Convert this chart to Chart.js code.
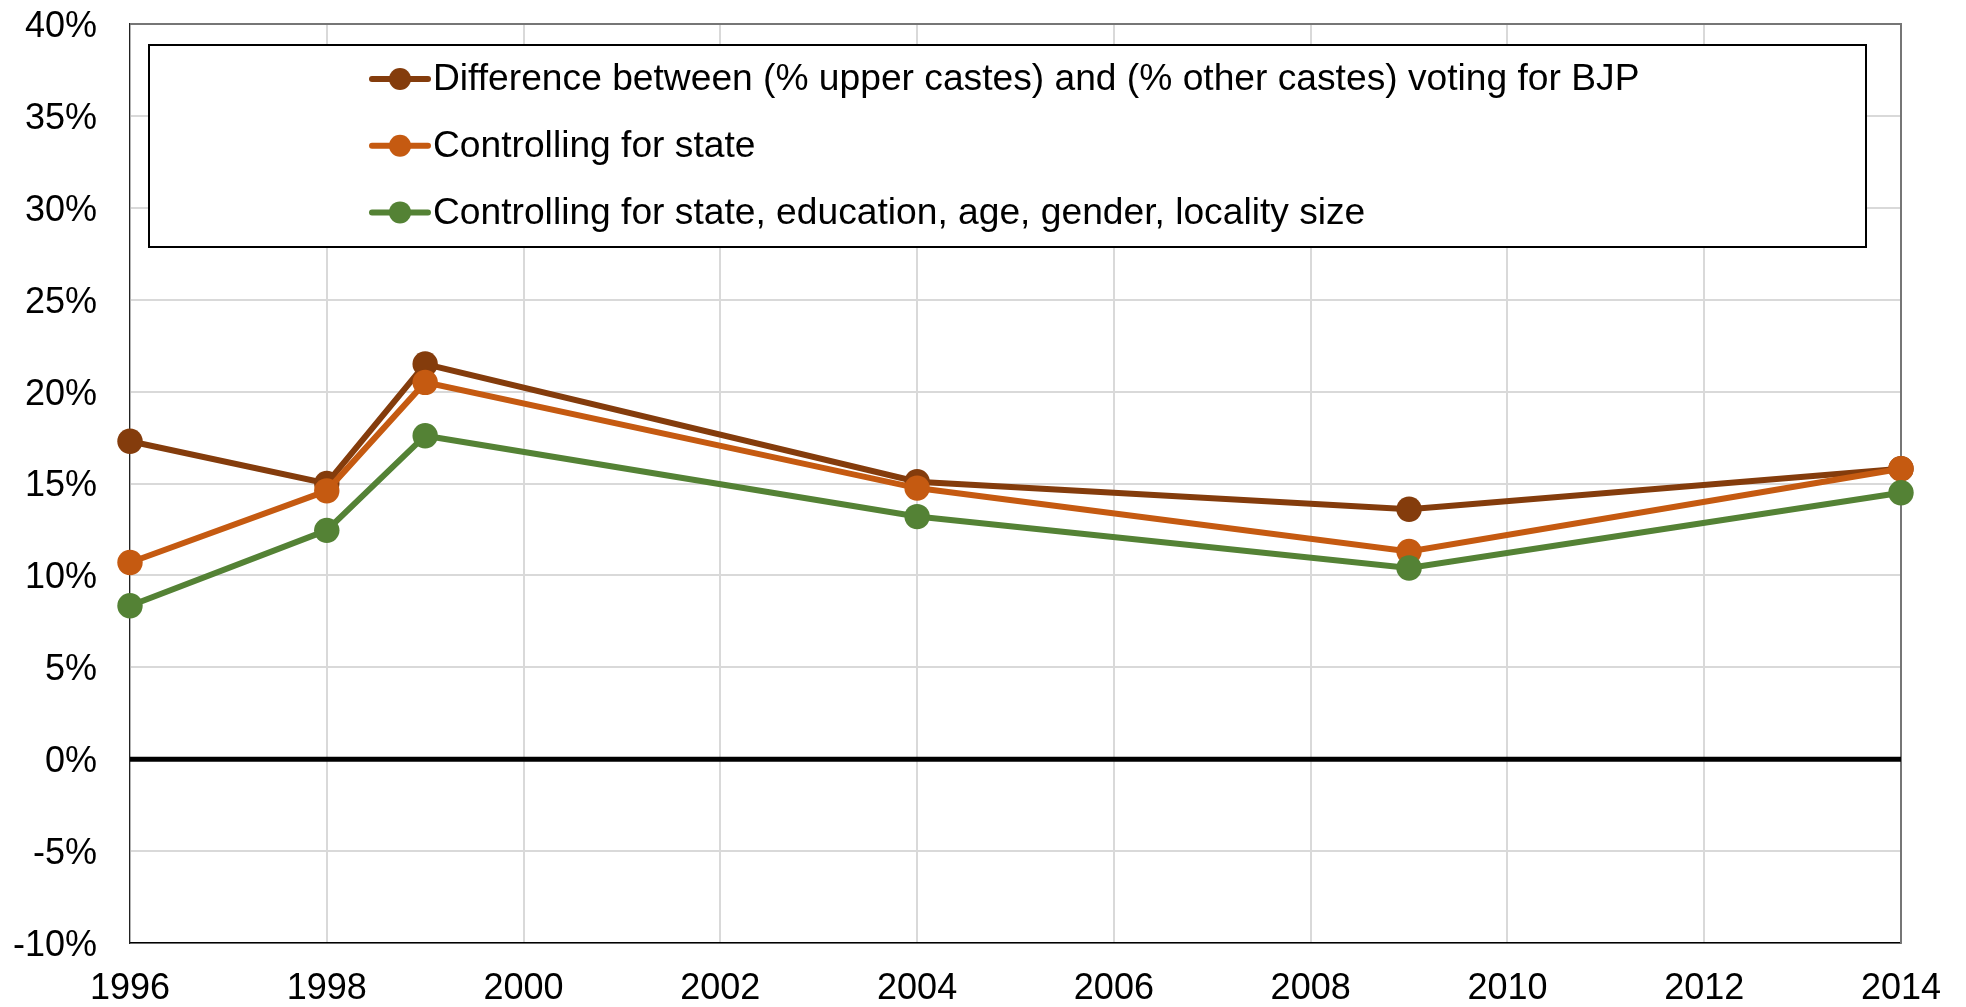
<!DOCTYPE html>
<html lang="en">

<head>
    <meta charset="UTF-8">
    <title>Upper castes vs other castes voting for BJP</title>
    <script src="https://cdn.jsdelivr.net/npm/chart.js@4.4.0/dist/chart.umd.min.js"></script>
    <style>
        html, body { margin: 0; padding: 0; background: #fff; }
        #wrap { width: 1966px; height: 1007px; }
    </style>
</head>

<body>
    <div id="wrap"><canvas id="chart" width="1966" height="1007"></canvas></div>
    <script>
        // election years and series values (in %)
        const years = [1996, 1998, 1999, 2004, 2009, 2014];
        const diffRaw = [17.3, 15.0, 21.5, 15.1, 13.6, 15.8];
        const ctrlState = [10.7, 14.6, 20.5, 14.75, 11.3, 15.8];
        const ctrlAll = [8.35, 12.45, 17.6, 13.2, 10.4, 14.5];

        const seriesLabels = [
            'Difference between (% upper castes) and (% other castes) voting for BJP',
            'Controlling for state',
            'Controlling for state, education, age, gender, locality size'
        ];
        const seriesColors = ['#843C0C', '#C55A11', '#548235'];

        const FONT = '"Liberation Sans", Arial, sans-serif';

        function toPoints(vals) {
            return years.map((y, i) => ({ x: y, y: vals[i] }));
        }

        // top/right frame + zero line, under the lines
        const framePlugin = {
            id: 'frame',
            beforeDatasetsDraw(chart) {
                const { ctx, chartArea: a, scales } = chart;
                ctx.save();
                ctx.strokeStyle = '#767676';
                ctx.lineWidth = 2;
                ctx.beginPath();
                ctx.moveTo(a.left, a.top);
                ctx.lineTo(a.right, a.top);
                ctx.lineTo(a.right, a.bottom);
                ctx.stroke();
                const y0 = scales.y.getPixelForValue(0);
                ctx.strokeStyle = '#000';
                ctx.lineWidth = 5;
                ctx.beginPath();
                ctx.moveTo(a.left, y0);
                ctx.lineTo(a.right, y0);
                ctx.stroke();
                ctx.restore();
            }
        };

        // boxed legend inside the plot
        const legendBox = {
            id: 'legendBox',
            afterDraw(chart) {
                const { ctx, chartArea: a } = chart;
                const bx = a.left + 19, by = a.top + 21;
                const bw = 1717, bh = 202;
                ctx.save();
                ctx.fillStyle = '#fff';
                ctx.fillRect(bx, by, bw, bh);
                ctx.strokeStyle = '#000';
                ctx.lineWidth = 2;
                ctx.strokeRect(bx, by, bw, bh);
                ctx.font = '37.2px ' + FONT;
                ctx.textBaseline = 'middle';
                ctx.textAlign = 'left';
                chart.data.datasets.forEach((ds, i) => {
                    const cy = by + 34 + i * 66.7;
                    const lx = bx + 223;
                    ctx.strokeStyle = ds.borderColor;
                    ctx.lineWidth = 6;
                    ctx.lineCap = 'round';
                    ctx.beginPath();
                    ctx.moveTo(lx, cy);
                    ctx.lineTo(lx + 56, cy);
                    ctx.stroke();
                    ctx.fillStyle = ds.borderColor;
                    ctx.beginPath();
                    ctx.arc(lx + 28, cy, 11, 0, Math.PI * 2);
                    ctx.fill();
                    ctx.fillStyle = '#000';
                    ctx.fillText(ds.label, lx + 61, cy + 1);
                });
                ctx.restore();
            }
        };

        // later series are painted on top (lower order = drawn last)
        const datasets = [diffRaw, ctrlState, ctrlAll].map((vals, i) => ({
            label: seriesLabels[i],
            data: toPoints(vals),
            order: 2 - i,
            borderColor: seriesColors[i],
            backgroundColor: seriesColors[i],
            borderWidth: 6,
            pointRadius: 12.7,
            pointBorderWidth: 0,
            pointHoverRadius: 12.7,
            tension: 0,
            clip: false
        }));

        new Chart(document.getElementById('chart').getContext('2d'), {
            type: 'line',
            data: { datasets: datasets },
            options: {
                responsive: false,
                animation: false,
                events: [],
                layout: { padding: { top: 24, right: 65, bottom: 0, left: 0 } },
                plugins: { legend: { display: false }, tooltip: { enabled: false } },
                scales: {
                    x: {
                        type: 'linear',
                        min: 1996,
                        max: 2014,
                        ticks: {
                            stepSize: 2,
                            color: '#000',
                            padding: 0,
                            font: { family: FONT, size: 36 },
                            callback: v => String(v),
                            maxRotation: 0
                        },
                        grid: { color: '#d9d9d9', lineWidth: 2, drawTicks: true, tickLength: 24, tickColor: 'rgba(0,0,0,0)' },
                        border: { color: '#000', width: 1.5 },
                        afterFit: s => { s.height = 64; }
                    },
                    y: {
                        min: -10,
                        max: 40,
                        ticks: {
                            stepSize: 5,
                            color: '#000',
                            padding: 0,
                            labelOffset: 3,
                            font: { family: FONT, size: 36 },
                            callback: v => v + '%'
                        },
                        grid: { color: '#d9d9d9', lineWidth: 2, drawTicks: true, tickLength: 33, tickColor: 'rgba(0,0,0,0)' },
                        border: { color: '#222', width: 1.2 },
                        afterFit: s => { s.width = 130; }
                    }
                }
            },
            plugins: [framePlugin, legendBox]
        });
    </script>
</body>

</html>
